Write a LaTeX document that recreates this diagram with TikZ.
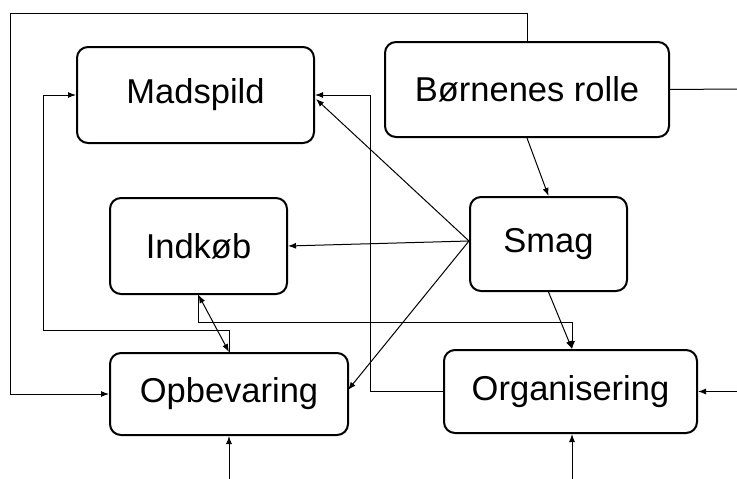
\documentclass[tikz,border=0pt]{standalone}
\usepackage{fontspec}
\setmainfont{Liberation Sans}
\usetikzlibrary{arrows.meta}
\begin{document}
\begin{tikzpicture}[x=1pt,y=-1pt,
  box/.style={draw=black,line width=2pt,rounded corners=11pt,inner sep=0pt,
    font=\fontsize{34.5}{40}\selectfont},
  conn/.style={draw=black,line width=1pt},
  arr/.style={conn,-{Latex[length=8pt,width=6pt]}},
  darr/.style={conn,{Latex[length=8pt,width=6pt]}-{Latex[length=8pt,width=6pt]}}]
\useasboundingbox (0,0) rectangle (737,479);
\node[box,minimum width=237pt,minimum height=96pt] (mad) at (195.5,95) {Madspild};
\node[box,minimum width=284pt,minimum height=95pt] (born) at (527,89.5) {Børnenes rolle};
\node[box,minimum width=177pt,minimum height=96pt] (indk) at (198.5,246) {Indkøb};
\node[box,minimum width=157pt,minimum height=94pt] (smag) at (548.5,244) {Smag};
\node[box,minimum width=238pt,minimum height=82pt] (opb) at (229,394) {Opbevaring};
\node[box,minimum width=253pt,minimum height=83pt] (org) at (570.5,391.5) {Organisering};
% helper coordinates
\coordinate (s1) at (469,241);
\coordinate (madE) at (316,99);
\coordinate (opbE) at (348,390);
\coordinate (bornR) at (737,89);
\coordinate (orgR) at (737,391.5);
\coordinate (opbB) at (229,479);
\coordinate (orgB) at (572,479);
% connectors
\draw[arr] (born.north) -- (527,13) -- (10,13) -- (10,394) -- (opb.west);
\draw[conn] (born.east) -- (bornR);
\draw[arr] (born.south) -- (smag.north);
\draw[arr] (org.west) -- (370,391.5) -- (370,95) -- (mad.east);
\draw[arr] (s1) -- (madE);
\draw[arr] (s1) -- (indk.east);
\draw[arr] (s1) -- (opbE);
\draw[arr] (smag.south) -- ([xshift=1.5pt]org.north);
\draw[darr] (indk.south) -- (opb.north);
\draw[arr] (opb.north) -- (229,330) -- (43,330) -- (43,95) -- (mad.west);
\draw[arr] (indk.south) -- (198.5,322) -- (572,322) -- ([xshift=1.5pt]org.north);
\draw[arr] (opbB) -- (opb.south);
\draw[arr] (orgB) -- ([xshift=1.5pt]org.south);
\draw[arr] (orgR) -- (org.east);
\end{tikzpicture}
\end{document}
